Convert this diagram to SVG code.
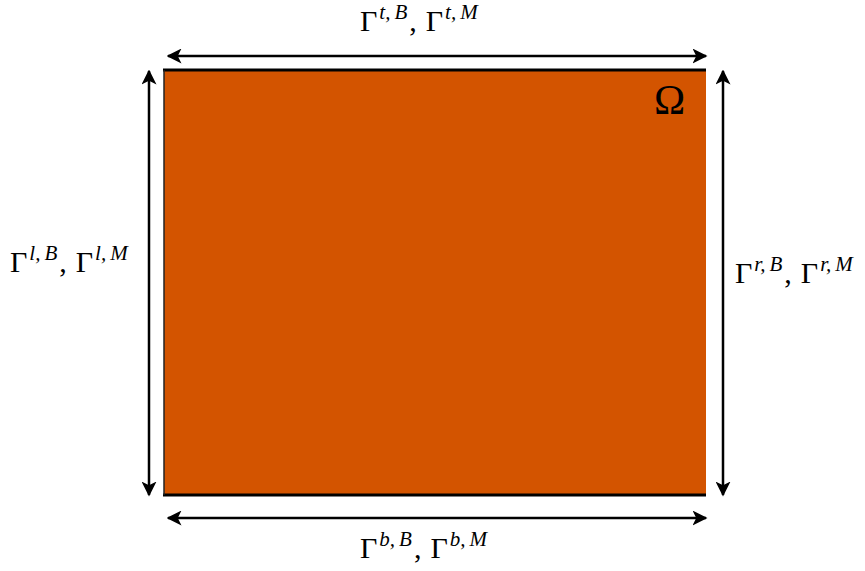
<svg xmlns="http://www.w3.org/2000/svg" width="865" height="571" viewBox="0 0 865 571">
<style>
.lbl{font-family:"Liberation Serif","DejaVu Serif",serif;font-size:30px;fill:#000}
.sup{font-style:italic;font-size:21px}
.arr{stroke:#000;stroke-width:2.5;fill:none;marker-start:url(#ah);marker-end:url(#ah)}
</style>
<defs>
<marker id="ah" viewBox="0 0 10 10" refX="9" refY="5" markerWidth="6" markerHeight="6" orient="auto-start-reverse" markerUnits="strokeWidth">
<path d="M0,0 L10,5 L0,10 L2.5,5 Z" fill="#000"/>
</marker>
</defs>
<rect width="865" height="571" fill="#fff"/>
<g id="domain">
<rect x="164" y="70" width="542" height="425" fill="#D35400"/>
<line x1="163" y1="70" x2="706" y2="70" stroke="#000" stroke-width="3"/>
<line x1="163" y1="495" x2="706" y2="495" stroke="#000" stroke-width="3"/>
<line x1="164" y1="70" x2="164" y2="495" stroke="#222" stroke-width="1.5"/>
<text x="654" y="114" class="lbl" style="font-size:42px">Ω</text>
</g>
<g id="connectors">
<line class="arr" x1="168" y1="56" x2="706" y2="56"/>
<line class="arr" x1="168" y1="518" x2="706" y2="518"/>
<line class="arr" x1="149" y1="71" x2="149" y2="495"/>
<line class="arr" x1="723" y1="71" x2="723" y2="495"/>
</g>
<g id="label-top"><text class="lbl" x="360" y="31">Γ<tspan class="sup" dx="2" dy="-12">t,</tspan><tspan class="sup" dx="4">B</tspan><tspan dx="2" dy="12">,</tspan><tspan dx="9">Γ</tspan><tspan class="sup" dx="2" dy="-12">t,</tspan><tspan class="sup" dx="4">M</tspan></text></g>
<g id="label-left"><text class="lbl" x="10" y="272">Γ<tspan class="sup" dx="2" dy="-12">l,</tspan><tspan class="sup" dx="4">B</tspan><tspan dx="2" dy="12">,</tspan><tspan dx="9">Γ</tspan><tspan class="sup" dx="2" dy="-12">l,</tspan><tspan class="sup" dx="4">M</tspan></text></g>
<g id="label-right"><text class="lbl" x="735" y="283">Γ<tspan class="sup" dx="2" dy="-12">r,</tspan><tspan class="sup" dx="4">B</tspan><tspan dx="2" dy="12">,</tspan><tspan dx="9">Γ</tspan><tspan class="sup" dx="2" dy="-12">r,</tspan><tspan class="sup" dx="4">M</tspan></text></g>
<g id="label-bottom"><text class="lbl" x="360" y="558">Γ<tspan class="sup" dx="2" dy="-12">b,</tspan><tspan class="sup" dx="4">B</tspan><tspan dx="2" dy="12">,</tspan><tspan dx="9">Γ</tspan><tspan class="sup" dx="2" dy="-12">b,</tspan><tspan class="sup" dx="4">M</tspan></text></g>
</svg>
